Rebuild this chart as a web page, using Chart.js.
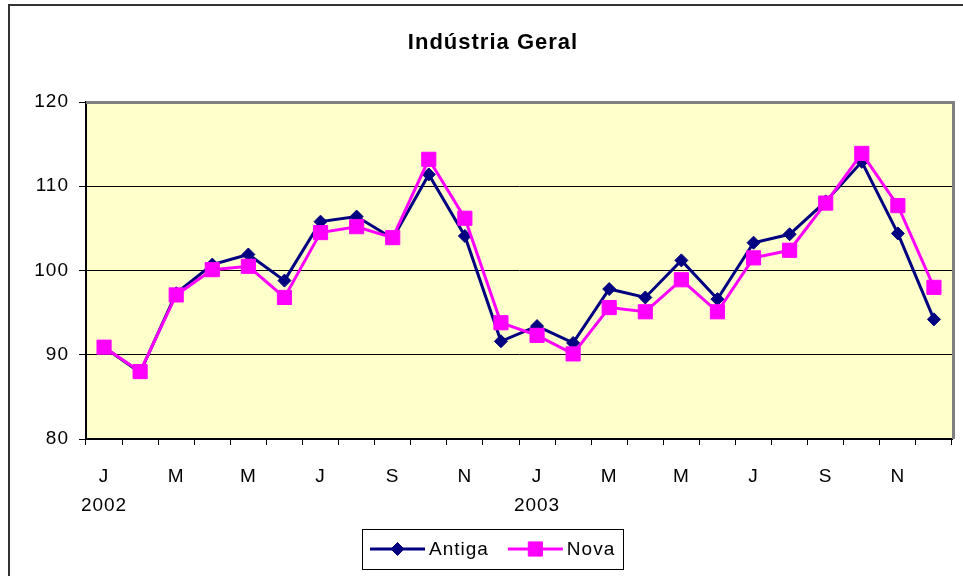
<!DOCTYPE html>
<html>
<head>
<meta charset="utf-8">
<script src="https://cdn.jsdelivr.net/npm/chart.js@4.4.1/dist/chart.umd.min.js"></script>
<style>
html,body{margin:0;padding:0;background:#fff;}
canvas{display:block;}
</style>
</head>
<body>
<canvas id="c" width="963" height="576"></canvas>
<script>
const TITLE = 'Indústria Geral';
const months = ['Jan/02','Fev/02','Mar/02','Abr/02','Mai/02','Jun/02','Jul/02','Ago/02','Set/02','Out/02','Nov/02','Dez/02',
                'Jan/03','Fev/03','Mar/03','Abr/03','Mai/03','Jun/03','Jul/03','Ago/03','Set/03','Out/03','Nov/03','Dez/03'];
const monthTicks = ['J','','M','','M','','J','','S','','N','','J','','M','','M','','J','','S','','N',''];
const yearTicks = ['2002','','','','','','','','','','','','2003','','','','','','','','','','',''];
const antiga = [90.9, 87.9, 97.3, 100.7, 101.9, 98.8, 105.8, 106.4, 103.8, 111.4, 104.1, 91.6,
                93.4, 91.4, 97.8, 96.8, 101.2, 96.6, 103.3, 104.3, 108.2, 112.9, 104.4, 94.2];
const nova   = [90.9, 88.0, 97.1, 100.1, 100.5, 96.8, 104.5, 105.2, 103.9, 113.2, 106.2, 93.8,
                92.3, 90.1, 95.6, 95.1, 98.9, 95.1, 101.5, 102.4, 108.0, 113.9, 107.7, 98.0];
const yTicks = [80, 90, 100, 110, 120];

const FONT = "'Liberation Sans', Arial, sans-serif";
const labels = months.map((m, i) => yearTicks[i] ? [monthTicks[i], yearTicks[i]] : monthTicks[i]);

const bgPlugin = {
  id: 'bg',
  beforeDraw(chart) {
    const ctx = chart.ctx, a = chart.chartArea;
    ctx.save();
    ctx.fillStyle = '#ffffff';
    ctx.fillRect(0, 0, chart.width, chart.height);
    ctx.fillStyle = '#FFFFCC';
    ctx.fillRect(a.left, a.top, a.right - a.left, a.bottom - a.top);
    ctx.restore();
    try { ctx.letterSpacing = '1px'; } catch (e) {}
  },
  beforeDatasetsDraw(chart) {
    const ctx = chart.ctx, a = chart.chartArea;
    ctx.save();
    ctx.strokeStyle = '#808080';
    ctx.lineWidth = 3;
    ctx.beginPath();
    ctx.moveTo(a.left, a.top + 0.5);
    ctx.lineTo(a.right + 1.5, a.top + 0.5);
    ctx.lineTo(a.right + 1.5, a.bottom);
    ctx.stroke();
    ctx.restore();
  },
  afterDraw(chart) {
    const ctx = chart.ctx;
    ctx.save();
    // outer frame
    ctx.strokeStyle = '#333333';
    ctx.lineWidth = 2;
    ctx.strokeRect(9, 5, 2000, 2000);
    // title
    ctx.fillStyle = '#000';
    ctx.font = 'bold 22px ' + FONT;
    ctx.textAlign = 'center';
    ctx.textBaseline = 'middle';
    ctx.fillText(TITLE, 493, 43);
    // legend
    ctx.textAlign = 'left';
    ctx.font = '19px ' + FONT;
    const ds = chart.data.datasets;
    const lineLen = 55, gap = 4, itemGap = 19, pad = 8;
    const widths = ds.map(d => lineLen + gap + ctx.measureText(d.label).width);
    const total = widths.reduce((s, w) => s + w, 0) + itemGap * (ds.length - 1) + pad * 2;
    const cx = 493, cy = 549, h = 40;
    const bx = Math.round(cx - total / 2);
    ctx.strokeStyle = '#000';
    ctx.lineWidth = 1;
    ctx.strokeRect(bx + 0.5, cy - h / 2 + 0.5, Math.round(total), h);
    let x = bx + pad;
    ds.forEach((d, i) => {
      ctx.strokeStyle = d.borderColor;
      ctx.lineWidth = 3;
      ctx.beginPath();
      ctx.moveTo(x, cy);
      ctx.lineTo(x + lineLen, cy);
      ctx.stroke();
      ctx.fillStyle = d.backgroundColor;
      ctx.strokeStyle = d.borderColor;
      ctx.lineWidth = 1;
      Chart.helpers.drawPoint(ctx, {
        pointStyle: d.pointStyle, radius: d.pointRadius, borderWidth: 1, rotation: 0
      }, x + lineLen / 2, cy);
      ctx.fillStyle = '#000';
      ctx.fillText(d.label, x + lineLen + gap, cy + 1);
      x += widths[i] + itemGap;
    });
    ctx.restore();
  }
};

new Chart(document.getElementById('c'), {
  type: 'line',
  data: {
    labels: labels,
    datasets: [
      {
        label: 'Antiga', data: antiga, order: 2,
        borderColor: '#000080', backgroundColor: '#000080',
        borderWidth: 3, pointStyle: 'rectRot', pointRadius: 6.5, pointHoverRadius: 6.5,
        pointBorderWidth: 1, tension: 0, clip: false
      },
      {
        label: 'Nova', data: nova, order: 1,
        borderColor: '#FF00FF', backgroundColor: '#FF00FF',
        borderWidth: 3, pointStyle: 'rect', pointRadius: 10, pointHoverRadius: 10,
        pointBorderWidth: 1, tension: 0, clip: false
      }
    ]
  },
  options: {
    responsive: false,
    animation: false,
    devicePixelRatio: 1,
    layout: { padding: { left: 0, right: 10, top: 102, bottom: 0 } },
    plugins: {
      legend: { display: false },
      tooltip: { enabled: false },
      title: { display: false }
    },
    scales: {
      x: {
        type: 'category', offset: true,
        grid: { offset: true, drawOnChartArea: false, drawTicks: true, tickLength: 6, color: '#000', lineWidth: 1 },
        border: { display: true, color: '#000', width: 2 },
        ticks: { autoSkip: false, maxRotation: 0, minRotation: 0, padding: 18, color: '#000',
                 font: { family: FONT, size: 19, lineHeight: 1.5 } },
        afterFit(scale) { scale.height = 137; }
      },
      y: {
        min: 80, max: 120,
        afterBuildTicks(scale) { scale.ticks = yTicks.map(v => ({ value: v })); },
        grid: { color: '#000', lineWidth: 1, drawTicks: true, tickLength: 7 },
        border: { display: true, color: '#000', width: 2 },
        ticks: { padding: 10, color: '#000', font: { family: FONT, size: 19 } },
        afterFit(scale) { scale.width = 86; }
      }
    }
  },
  plugins: [bgPlugin]
});
</script>
</body>
</html>
